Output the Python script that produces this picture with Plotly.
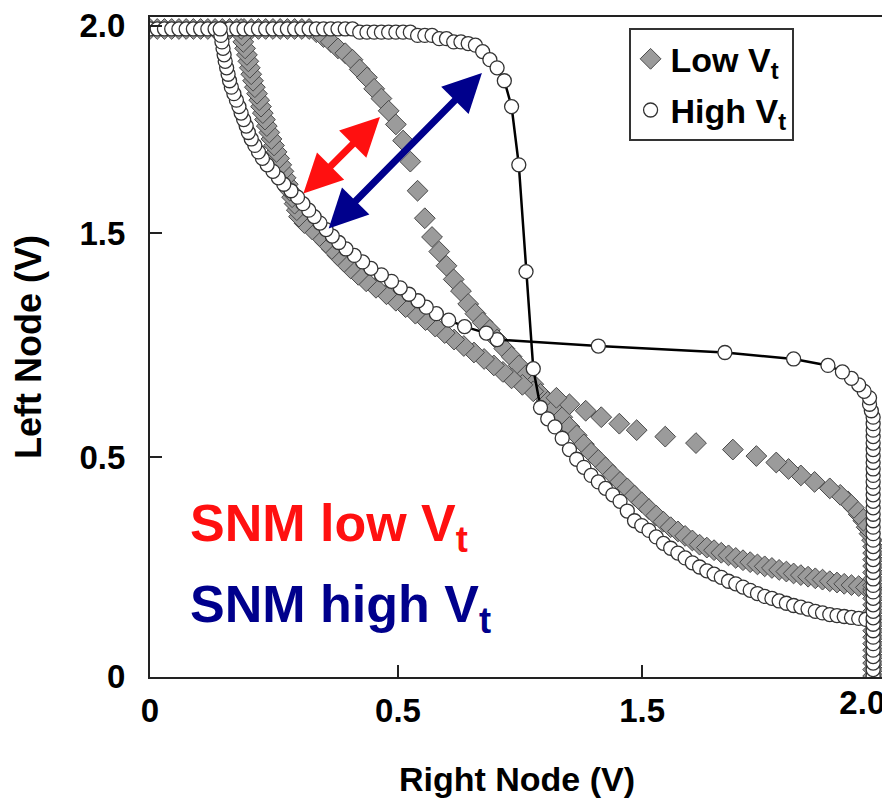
import plotly.graph_objects as go

# ---------------- data ----------------
# input sweep of each half-cell (V)
VSWEEP = [0.00, 0.02, 0.04, 0.06, 0.08, 0.10, 0.12, 0.14, 0.16, 0.18,
          0.20, 0.22, 0.24, 0.26, 0.28, 0.30, 0.32, 0.34, 0.36, 0.38,
          0.40, 0.42, 0.44, 0.46, 0.48, 0.50, 0.52, 0.54, 0.56, 0.58,
          0.60, 0.62, 0.64, 0.66, 0.68, 0.70, 0.72, 0.74, 0.76, 0.78,
          0.80, 0.82, 0.84, 0.86, 0.88, 0.90, 0.92, 0.94, 0.96, 0.98,
          1.00, 1.02, 1.04, 1.06, 1.08, 1.10, 1.12, 1.14, 1.16, 1.18,
          1.20, 1.22, 1.24, 1.26, 1.28, 1.30, 1.32, 1.34, 1.36, 1.38,
          1.40, 1.42, 1.44, 1.46, 1.48, 1.50, 1.52, 1.54, 1.56, 1.58,
          1.60, 1.62, 1.64, 1.66, 1.68, 1.70, 1.72, 1.74, 1.76, 1.78,
          1.80, 1.82, 1.84, 1.86, 1.88, 1.90, 1.92, 1.94, 1.96, 1.98,
          2.00]

# High Vt: left node (y) when right node (x) is swept
HIGH_VT_LEFT = [2.00, 2.00, 2.00, 2.00, 2.00, 2.00, 2.00, 2.00, 2.00, 2.00,
                2.00, 2.00, 2.00, 2.00, 2.00, 2.00, 2.00, 2.00, 2.00, 2.00,
                2.00, 2.00, 2.00, 2.00, 2.00, 2.00, 2.00, 2.00, 2.00, 1.99,
                1.99, 1.99, 1.99, 1.99, 1.99, 1.99, 1.99, 1.98, 1.98, 1.98,
                1.97, 1.97, 1.96, 1.96, 1.955, 1.95, 1.93, 1.905, 1.88, 1.84,
                1.76, 1.58, 1.25, 0.95, 0.83, 0.795, 0.77, 0.735, 0.70, 0.67,
                0.645, 0.62, 0.60, 0.58, 0.56, 0.54, 0.51, 0.48, 0.465, 0.45,
                0.43, 0.41, 0.395, 0.38, 0.365, 0.35, 0.337, 0.325, 0.315, 0.305,
                0.293, 0.285, 0.275, 0.265, 0.255, 0.246, 0.24, 0.232, 0.225, 0.218,
                0.213, 0.207, 0.20, 0.195, 0.19, 0.187, 0.184, 0.181, 0.178, 0.175,
                0.173]

# High Vt: right node (x) when left node (y) is swept
HIGH_VT_RIGHT = [2.00, 2.00, 2.00, 2.00, 2.00, 2.00, 2.00, 2.00, 2.00, 2.00,
                 2.00, 2.00, 2.00, 2.00, 2.00, 2.00, 2.00, 2.00, 2.00, 2.00,
                 2.00, 2.00, 2.00, 2.00, 2.00, 2.00, 2.00, 2.00, 2.00, 2.00,
                 2.00, 2.00, 2.00, 2.00, 2.00, 2.00, 2.00, 2.00, 2.00, 2.00,
                 2.00, 1.995, 1.99, 1.99, 1.975, 1.96, 1.94, 1.915, 1.875, 1.78,
                 1.59, 1.24, 0.96, 0.93, 0.87, 0.826, 0.792, 0.764, 0.741, 0.716,
                 0.692, 0.668, 0.64, 0.611, 0.588, 0.565, 0.542, 0.522, 0.504, 0.487,
                 0.47, 0.454, 0.439, 0.423, 0.408, 0.39, 0.37, 0.355, 0.34, 0.324,
                 0.311, 0.30, 0.29, 0.28, 0.272, 0.266, 0.259, 0.252, 0.246, 0.239,
                 0.232, 0.225, 0.22, 0.216, 0.212, 0.208, 0.205, 0.202, 0.199, 0.196,
                 0.194]

# Low Vt: left node (y) when right node (x) is swept
LOW_VT_LEFT = [2.00, 2.00, 2.00, 2.00, 2.00, 2.00, 2.00, 2.00, 2.00, 2.00,
               2.00, 2.00, 2.00, 2.00, 2.00, 2.00, 2.00, 2.00, 2.00, 2.00,
               2.00, 2.00, 2.00, 1.99, 1.975, 1.96, 1.94, 1.925, 1.905, 1.875,
               1.85, 1.815, 1.785, 1.747, 1.705, 1.655, 1.59, 1.50, 1.415, 1.357,
               1.312, 1.268, 1.226, 1.19, 1.15, 1.12, 1.093, 1.07, 1.04, 1.012,
               0.987, 0.96, 0.93, 0.902, 0.872, 0.848, 0.828, 0.80, 0.77, 0.744,
               0.716, 0.69, 0.668, 0.645, 0.622, 0.60, 0.58, 0.558, 0.537, 0.516,
               0.496, 0.477, 0.46, 0.447, 0.433, 0.419, 0.406, 0.397, 0.389, 0.381,
               0.373, 0.365, 0.358, 0.352, 0.345, 0.339, 0.334, 0.328, 0.323, 0.317,
               0.312, 0.307, 0.302, 0.298, 0.293, 0.289, 0.285, 0.281, 0.278, 0.274,
               0.269]

# Low Vt: right node (x) when left node (y) is swept
LOW_VT_RIGHT = [2.00, 2.00, 2.00, 2.00, 2.00, 2.00, 2.00, 2.00, 2.00, 2.00,
                2.00, 2.00, 2.00, 2.00, 2.00, 2.00, 2.00, 2.00, 2.00, 2.00,
                2.00, 1.997, 1.99, 1.982, 1.973, 1.96, 1.947, 1.93, 1.909, 1.88,
                1.838, 1.80, 1.766, 1.732, 1.677, 1.612, 1.51, 1.425, 1.346, 1.298,
                1.248, 1.205, 1.16, 1.124, 1.06, 1.03, 1.00, 0.976, 0.951, 0.924,
                0.896, 0.868, 0.841, 0.815, 0.789, 0.762, 0.734, 0.707, 0.68, 0.654,
                0.625, 0.598, 0.576, 0.555, 0.537, 0.519, 0.503, 0.486, 0.469, 0.449,
                0.427, 0.412, 0.406, 0.40, 0.393, 0.387, 0.381, 0.375, 0.369, 0.363,
                0.357, 0.35, 0.343, 0.336, 0.33, 0.323, 0.318, 0.312, 0.307, 0.302,
                0.296, 0.29, 0.285, 0.28, 0.276, 0.272, 0.268, 0.263, 0.258, 0.255,
                0.252]

SERIES_NAMES = ["Low V<sub>t</sub>", "High V<sub>t</sub>"]
X_TICK_TEXT = ["0", "0.5", "1.5"]
X_END_TICK_TEXT = ["2.0"]
Y_TICK_TEXT = ["0", "0.5", "1.5", "2.0"]
X_TITLE = "Right Node (V)"
Y_TITLE = "Left Node (V)"
NOTE_LOW = "SNM low V<sub>t</sub>"
NOTE_HIGH = "SNM high V<sub>t</sub>"

# ---------------- layout constants ----------------
X_RANGE = [0, 2.03]
Y_RANGE = [-0.003, 2.037]
X_TICK_POS = [0, 0.686, 1.361]
X_END_TICK_POS = [1.97]
Y_TICK_POS = [0, 0.677, 1.369, 2.01]
FONT = "Liberation Sans"
RED = "#ff1010"
BLUE = "#00008c"

DIAMOND = dict(symbol="diamond", size=16, color="#9b9b9b",
               line=dict(color="#4a4a4a", width=1))
CIRCLE = dict(symbol="circle", size=14, color="white",
              line=dict(color="#333333", width=1.3))
CURVE_LINE = dict(color="black", width=2.5)

fig = go.Figure()

fig.add_trace(go.Scatter(x=VSWEEP, y=LOW_VT_LEFT, mode="markers", marker=DIAMOND,
                         name=SERIES_NAMES[0], legendgroup="low", showlegend=True))
fig.add_trace(go.Scatter(x=LOW_VT_RIGHT, y=VSWEEP, mode="markers", marker=DIAMOND,
                         name=SERIES_NAMES[0], legendgroup="low", showlegend=False))
# connecting lines of the high-Vt curves (under their markers)
fig.add_trace(go.Scatter(x=VSWEEP, y=HIGH_VT_LEFT, mode="lines", line=CURVE_LINE,
                         legendgroup="high", showlegend=False, hoverinfo="skip"))
fig.add_trace(go.Scatter(x=HIGH_VT_RIGHT, y=VSWEEP, mode="lines", line=CURVE_LINE,
                         legendgroup="high", showlegend=False, hoverinfo="skip"))
fig.add_trace(go.Scatter(x=VSWEEP, y=HIGH_VT_LEFT, mode="markers", marker=CIRCLE,
                         name=SERIES_NAMES[1], legendgroup="high", showlegend=True))
fig.add_trace(go.Scatter(x=HIGH_VT_RIGHT, y=VSWEEP, mode="markers", marker=CIRCLE,
                         name=SERIES_NAMES[1], legendgroup="high", showlegend=False))
# empty trace so the secondary x axis (for the end label) is drawn
fig.add_trace(go.Scatter(x=[], y=[], xaxis="x2", showlegend=False, hoverinfo="skip"))

axis_common = dict(showline=True, linecolor="#222", linewidth=2, mirror=True,
                   ticks="inside", ticklen=12, tickwidth=1.5, tickcolor="#222",
                   showgrid=False, zeroline=False, automargin=False,
                   ticklabeloverflow="allow",
                   tickfont=dict(family=FONT, size=33, color="black", weight="bold"))

# the page body adds an 8 px offset, so the figure is drawn 8 px smaller
fig.update_layout(
    template="none",
    width=882, height=796,
    margin=dict(l=142, r=6, t=9, b=127),
    paper_bgcolor="white", plot_bgcolor="white",
    font=dict(family=FONT, color="black"),
    xaxis=dict(range=X_RANGE, tickmode="array", tickvals=X_TICK_POS, ticktext=X_TICK_TEXT,
               ticklabelstandoff=3,
               title=dict(text=X_TITLE, standoff=40,
                          font=dict(family=FONT, size=34, color="black", weight="bold")),
               **axis_common),
    xaxis2=dict(range=X_RANGE, overlaying="x", anchor="y", side="bottom",
                tickmode="array", tickvals=X_END_TICK_POS, ticktext=X_END_TICK_TEXT,
                ticks="", showline=False, showgrid=False, zeroline=False,
                ticklabelstandoff=3, ticklabeloverflow="allow",
                tickfont=dict(family=FONT, size=33, color="black", weight="bold")),
    yaxis=dict(range=Y_RANGE, tickmode="array", tickvals=Y_TICK_POS, ticktext=Y_TICK_TEXT,
               ticklabelstandoff=16,
               title=dict(text=Y_TITLE, standoff=44,
                          font=dict(family=FONT, size=36, color="black", weight="bold")),
               **axis_common),
    legend=dict(x=0.652, y=0.983, xanchor="left", yanchor="top",
                bgcolor="white", bordercolor="#333", borderwidth=2,
                font=dict(family=FONT, size=34, color="black", weight="bold"),
                traceorder="grouped", tracegroupgap=4),
    showlegend=True,
)

# SNM arrows (double headed)
ARROWS = [
    dict(x=0.636, y=1.728, ax=0.42, ay=1.487, color=RED),
    dict(x=0.918, y=1.864, ax=0.49, ay=1.379, color=BLUE),
]
for a in ARROWS:
    fig.add_annotation(x=a["x"], y=a["y"], ax=a["ax"], ay=a["ay"], xref="x", yref="y",
                       axref="x", ayref="y", text="", showarrow=True,
                       arrowhead=2, startarrowhead=2, arrowside="end+start",
                       arrowsize=1.1, startarrowsize=1.1, arrowwidth=7,
                       arrowcolor=a["color"], standoff=0, startstandoff=0)

fig.add_annotation(x=0.105, y=0.46, xref="x", yref="y", text=NOTE_LOW, showarrow=False,
                   xanchor="left", yanchor="middle",
                   font=dict(family=FONT, size=52, color=RED, weight="bold"))
fig.add_annotation(x=0.105, y=0.21, xref="x", yref="y", text=NOTE_HIGH, showarrow=False,
                   xanchor="left", yanchor="middle",
                   font=dict(family=FONT, size=52, color=BLUE, weight="bold"))

fig.write_html("out.html")
